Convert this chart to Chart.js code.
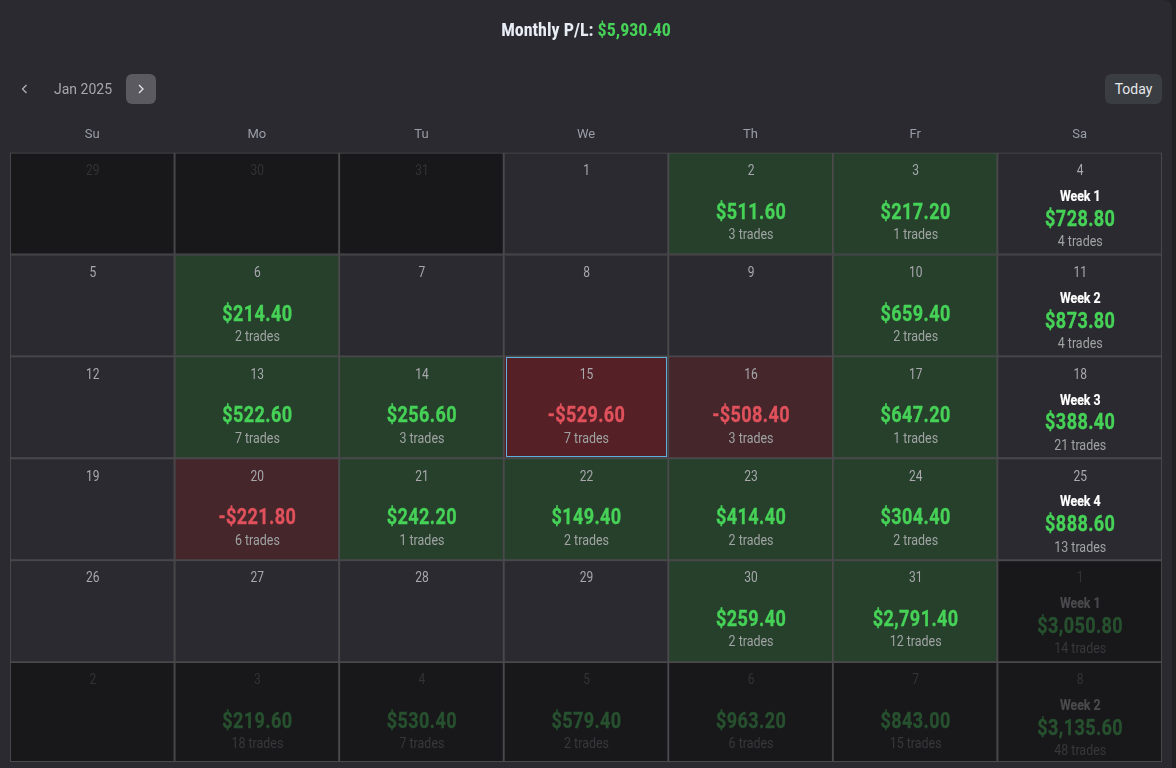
<!DOCTYPE html>
<html><head><meta charset="utf-8">
<style>
html,body{margin:0;padding:0;background:#222226;width:1176px;height:768px;overflow:hidden;font-family:Roboto,sans-serif}
#wrap{position:relative;width:1172px;height:768px;background:#2a2a30;border-radius:0 8px 0 0}
#chart{position:absolute;left:0;top:0;width:1176px;height:768px}
.t{position:absolute;white-space:nowrap}
#title{top:19px;left:0;width:1172px;text-align:center;font-size:18px;font-weight:700;color:#e8ecf4;font-stretch:condensed}
#title span{color:#46d257}
#month{left:54px;top:81px;font-size:14px;color:#a6a6ad}
#next{left:126px;top:74px;width:30px;height:30px;border-radius:6px;background:#5a5a60}
#today{left:1105px;top:74px;width:57px;height:30px;line-height:30px;text-align:center;border-radius:6px;background:#3a3d42;color:#e6e8ea;font-size:14px}
svg{position:absolute}
</style></head><body>
<div id="wrap">
<canvas id="chart" width="1176" height="768"></canvas>
<div class="t" id="title">Monthly P/L: <span>$5,930.40</span></div>
<svg style="left:20px;top:84px" width="10" height="10"><path d="M6.5 1 L2.5 5 L6.5 9" fill="none" stroke="#b0b0b6" stroke-width="1.3"/></svg>
<div class="t" id="month">Jan 2025</div>
<div class="t" id="next"><svg style="left:10px;top:10px" width="10" height="10"><path d="M3 1 L7 5 L3 9" fill="none" stroke="#e6e6ea" stroke-width="1.3"/></svg></div>
<div class="t" id="today">Today</div>
</div>
<script src="https://cdn.jsdelivr.net/npm/chart.js@4"></script>
<script>
const weekdays = ['Su','Mo','Tu','We','Th','Fr','Sa'];
const dayNumbers = [
 [29,30,31,1,2,3,4],
 [5,6,7,8,9,10,11],
 [12,13,14,15,16,17,18],
 [19,20,21,22,23,24,25],
 [26,27,28,29,30,31,1],
 [2,3,4,5,6,7,8]
];
const profit = [
 [null,null,null,null,511.60,217.20,728.80],
 [null,214.40,null,null,null,659.40,873.80],
 [null,522.60,256.60,-529.60,-508.40,647.20,388.40],
 [null,-221.80,242.20,149.40,414.40,304.40,888.60],
 [null,null,null,null,259.40,2791.40,3050.80],
 [null,219.60,530.40,579.40,963.20,843.00,3135.60]
];
const trades = [
 [null,null,null,null,3,1,4],
 [null,2,null,null,null,2,4],
 [null,7,3,7,3,1,21],
 [null,6,1,2,2,2,13],
 [null,null,null,null,2,12,14],
 [null,18,7,2,6,15,48]
];
const weekLabels = ['Week 1','Week 2','Week 3','Week 4','Week 1','Week 2'];
const outside = [
 [1,1,1,0,0,0,0],
 [0,0,0,0,0,0,0],
 [0,0,0,0,0,0,0],
 [0,0,0,0,0,0,0],
 [0,0,0,0,0,0,1],
 [1,1,1,1,1,1,1]
];
const selected = {row:2,col:3};

function fill(r,c){
  if(outside[r][c]) return '#18181b';
  if(c===6 || profit[r][c]===null) return '#2a2a30';
  const v=profit[r][c];
  if(v>=0) return '#26402c';
  if(r===selected.row&&c===selected.col) return '#552026';
  return '#44262b';
}
const fmt=v=>(v<0?'-':'')+'$'+Math.abs(v).toLocaleString('en-US',{minimumFractionDigits:2,maximumFractionDigits:2});

const datasets=dayNumbers.map((row,r)=>({
  label:weekLabels[r],
  data:row.map(()=>[r,r===5?5.98:r+1]),
  backgroundColor:row.map((_,c)=>fill(r,c)),
  borderColor:'#4a4a4c',
  borderWidth:1.3,
  borderSkipped:false,
  barPercentage:1,
  categoryPercentage:1,
  grouped:false
}));

function txt(ctx,s,x,y,font,color,sx,ls,sw){
  ctx.save();
  ctx.font=font;ctx.fillStyle=color;ctx.textAlign='center';ctx.textBaseline='middle';
  if(ls) ctx.letterSpacing=ls;
  ctx.translate(x,y);ctx.scale(sx,1);
  if(sw){ctx.strokeStyle=color;ctx.lineWidth=sw;ctx.strokeText(s,0,0);}
  ctx.fillText(s,0,0);
  ctx.restore();
}
const cellText={
  id:'cellText',
  afterDatasetsDraw(chart){
    const {ctx,scales:{x,y}}=chart;
    const F='Roboto, sans-serif';
    dayNumbers.forEach((row,r)=>row.forEach((d,c)=>{
      const cx=x.getPixelForValue(c)+.5, top=y.getPixelForValue(r);
      const out=outside[r][c];
      txt(ctx,String(d),cx,top+18.5,'400 15px '+F,out?'#333336':'#a8a8ad',.8);
      const v=profit[r][c];
      if(v!==null){
        const wk=c===6;
        if(wk) txt(ctx,weekLabels[r],cx,top+44.5,'700 14.5px '+F,out?'#4a4a4d':'#ffffff',.85,null,.2);
        const dy=wk?67.5:60.5;
        const col=out?'#26502e':(v<0?'#e0515c':'#46d257');
        txt(ctx,fmt(v),cx,top+dy,'700 22px '+F,col,.82,'0.5px',.35);
        txt(ctx,trades[r][c]+' trades',cx,top+dy+22,'400 15px '+F,out?'#38383b':'#a0a3a3',.83);
      }
    }));
    const w=(x.right-x.left)/7, l=x.left+selected.col*w, t=y.getPixelForValue(selected.row), h=(y.getPixelForValue(1)-y.getPixelForValue(0));
    ctx.save();ctx.strokeStyle='#5bb0dc';ctx.lineWidth=1;
    ctx.strokeRect(Math.round(l)+2.5,Math.round(t)+1.5,Math.round(w)-5,Math.round(h)-3);
    ctx.restore();
  }
};

new Chart(document.getElementById('chart'),{
  type:'bar',
  data:{labels:weekdays,datasets},
  plugins:[cellText],
  options:{
    responsive:false,animation:false,
    devicePixelRatio:1,
    layout:{padding:{left:10,right:14,top:125,bottom:4}},
    plugins:{legend:{display:false},title:{display:false},tooltip:{enabled:false}},
    scales:{
      x:{position:'top',grid:{display:false},border:{display:false},
         ticks:{color:'#9a9ea8',font:{family:'Roboto',size:13},padding:2,maxRotation:0}},
      y:{type:'linear',min:0,max:6,reverse:true,display:false}
    }
  }
});
</script>
</body></html>
